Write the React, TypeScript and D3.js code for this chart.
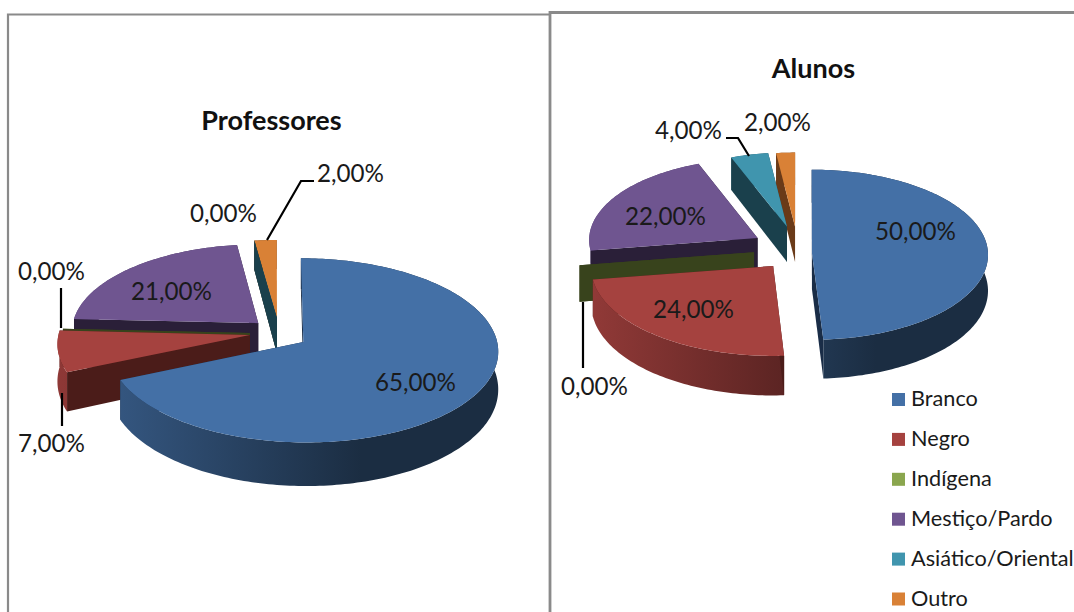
import React from "react";
import * as d3 from "d3";

// Categories and palette shared by both pies
const categories = ["Branco", "Negro", "Indígena", "Mestiço/Pardo", "Asiático/Oriental", "Outro"];
const topColors = ["#4470A6", "#A5423F", "#8AA64E", "#6F5590", "#4095AE", "#D98136"];
const faceColors = ["#1A2D47", "#4B1C19", "#38431C", "#2A1F38", "#1A404C", "#6A3A18"];

// Series values, in percent
const professores = [65, 7, 0, 21, 0, 2];
const alunos = [50, 24, 0, 22, 4, 2];

// Explosion of each slice on the pie's ground plane, in radii, and its own radius factor
const professoresPullX = [0.15, -0.124, -0.124, -0.082, 0.0155, 0.0155];
const professoresPullY = [-0.098, -0.022, 0, 0.11, 0.168, 0.168];
const professoresSize = [0.99, 0.985, 0.97, 0.965, 0.965, 0.965];
const alunosPullX = [0.085, -0.135, -0.244, -0.225, -0.057, -0.011];
const alunosPullY = [0, -0.152, 0.01, 0.176, 0.31, 0.31];
const alunosSize = [1, 1.03, 1, 0.96, 0.9, 0.9];

const fmt = (v: number) => v.toFixed(2).replace(".", ",") + "%";

type View = { cx: number; cy: number; rx: number; ry: number; persp: number; depth: number; depthSlope: number };
type Lab = { i: number; x: number; y: number };

const pieGen = d3.pie<number>().sort(null).value((d) => d);

function Pie3D({ id, values, pullX, pullY, size, view, order, labels }: {
  id: string; values: number[]; pullX: number[]; pullY: number[]; size: number[]; view: View; order: number[]; labels: Lab[];
}) {
  const arcs = pieGen(values);
  const top = (X: number, Y: number): [number, number] => {
    const w = 1 + view.persp * Y;
    return [view.cx + (view.rx * X) / w, view.cy - (view.ry * Y) / w];
  };
  const bottom = (X: number, Y: number): [number, number] => {
    const [x, y] = top(X, Y);
    return [x, y + view.depth - view.depthSlope * Y];
  };
  const line = d3.line<[number, number]>();
  const shade = (c: string, t: number) => d3.interpolateRgb(c, "#000")(t);

  return (
    <g>
      <defs>
        {topColors.map((c, i) => (
          <linearGradient key={i} id={`${id}-wall-${i}`} gradientUnits="userSpaceOnUse"
            x1={view.cx - 1.15 * view.rx} x2={view.cx + 0.45 * view.rx} y1={0} y2={0}>
            <stop offset="0" stopColor={shade(c, 0.13)} />
            <stop offset="1" stopColor={shade(c, 0.6)} />
          </linearGradient>
        ))}
      </defs>
      {order.map((i) => {
        const a = arcs[i];
        const ox = pullX[i];
        const oy = pullY[i];
        const r = size[i];
        const steps = Math.max(1, Math.ceil((a.endAngle - a.startAngle) / 0.02));
        const ring = d3.range(steps + 1).map((s) => {
          const t = a.startAngle + ((a.endAngle - a.startAngle) * s) / steps;
          return [ox + r * Math.sin(t), oy + r * Math.cos(t)] as [number, number];
        });
        const first = ring[0];
        const last = ring[ring.length - 1];
        const face = (p: [number, number]) =>
          line([top(ox, oy), top(p[0], p[1]), bottom(p[0], p[1]), bottom(ox, oy)]) + "Z";
        const wall = line([...ring.map((p) => top(p[0], p[1])), ...ring.slice().reverse().map((p) => bottom(p[0], p[1]))]) + "Z";
        const lid = line([top(ox, oy), ...ring.map((p) => top(p[0], p[1]))]) + "Z";
        // The closing face sits behind the rim, the opening face in front of it
        return (
          <g key={i}>
            <path d={face(last)} fill={faceColors[i]} />
            <path d={wall} fill={`url(#${id}-wall-${i})`} />
            <path d={face(first)} fill={faceColors[i]} />
            <path d={lid} fill={topColors[i]} />
          </g>
        );
      })}
      {labels.map((l, n) => (
        <text key={n} x={l.x} y={l.y} fontSize={24.2} fill="#1a1a1a">{fmt(values[l.i])}</text>
      ))}
    </g>
  );
}

const FONT = "Lato, 'Open Sans', sans-serif";

export default function App() {
  const leaders = [
    [[267, 240], [301, 181], [314, 181]],
    [[61, 288], [61, 328]],
    [[62, 393], [62, 426]],
    [[726, 138], [738, 138], [749, 156]],
    [[583, 302], [583, 368]],
  ] as [number, number][][];
  const path = d3.line<[number, number]>();
  return (
    <svg width={1074} height={612} style={{ position: "absolute", left: 0, top: 0, fontFamily: FONT }}>
      <rect width={1074} height={612} fill="#fff" />
      <path d="M8 612V14.5H550" fill="none" stroke="#8a8a8a" strokeWidth={2.2} />
      <path d="M550 612V12.5H1074" fill="none" stroke="#8a8a8a" strokeWidth={2.8} />

      <Pie3D id="prof" values={professores} pullX={professoresPullX} pullY={professoresPullY} size={professoresSize}
        view={{ cx: 274, cy: 333, rx: 194, ry: 90.6, persp: 0.0914, depth: 36.5, depthSlope: 6.5 }}
        order={[5, 4, 3, 2, 1, 0]}
        labels={[
          { i: 0, x: 375, y: 391 }, { i: 3, x: 131, y: 300 }, { i: 5, x: 317, y: 182 },
          { i: 4, x: 190, y: 222 }, { i: 2, x: 18, y: 280 }, { i: 1, x: 18, y: 452 },
        ]} />
      <Pie3D id="alun" values={alunos} pullX={alunosPullX} pullY={alunosPullY} size={alunosSize}
        view={{ cx: 797, cy: 253, rx: 176, ry: 85, persp: 0.02, depth: 36, depthSlope: 3 }}
        order={[3, 5, 4, 2, 1, 0]}
        labels={[
          { i: 0, x: 875, y: 240 }, { i: 1, x: 653, y: 318 }, { i: 3, x: 625, y: 225 },
          { i: 4, x: 655, y: 139 }, { i: 5, x: 744, y: 131 }, { i: 2, x: 561, y: 395 },
        ]} />

      {leaders.map((pts, i) => (
        <path key={i} d={path(pts) as string} fill="none" stroke="#000" strokeWidth={2.2} />
      ))}

      <text x={271.5} y={130} textAnchor="middle" fontSize={27} fontWeight={700} fill="#111">Professores</text>
      <text x={813.5} y={78} textAnchor="middle" fontSize={27} fontWeight={700} fill="#111">Alunos</text>

      {categories.map((c, i) => (
        <g key={c} transform={`translate(892,${393 + i * 39.9})`}>
          <rect width={13} height={13} fill={topColors[i]} />
          <text x={19} y={13} fontSize={21.7} fill="#1a1a1a">{c}</text>
        </g>
      ))}
    </svg>
  );
}
